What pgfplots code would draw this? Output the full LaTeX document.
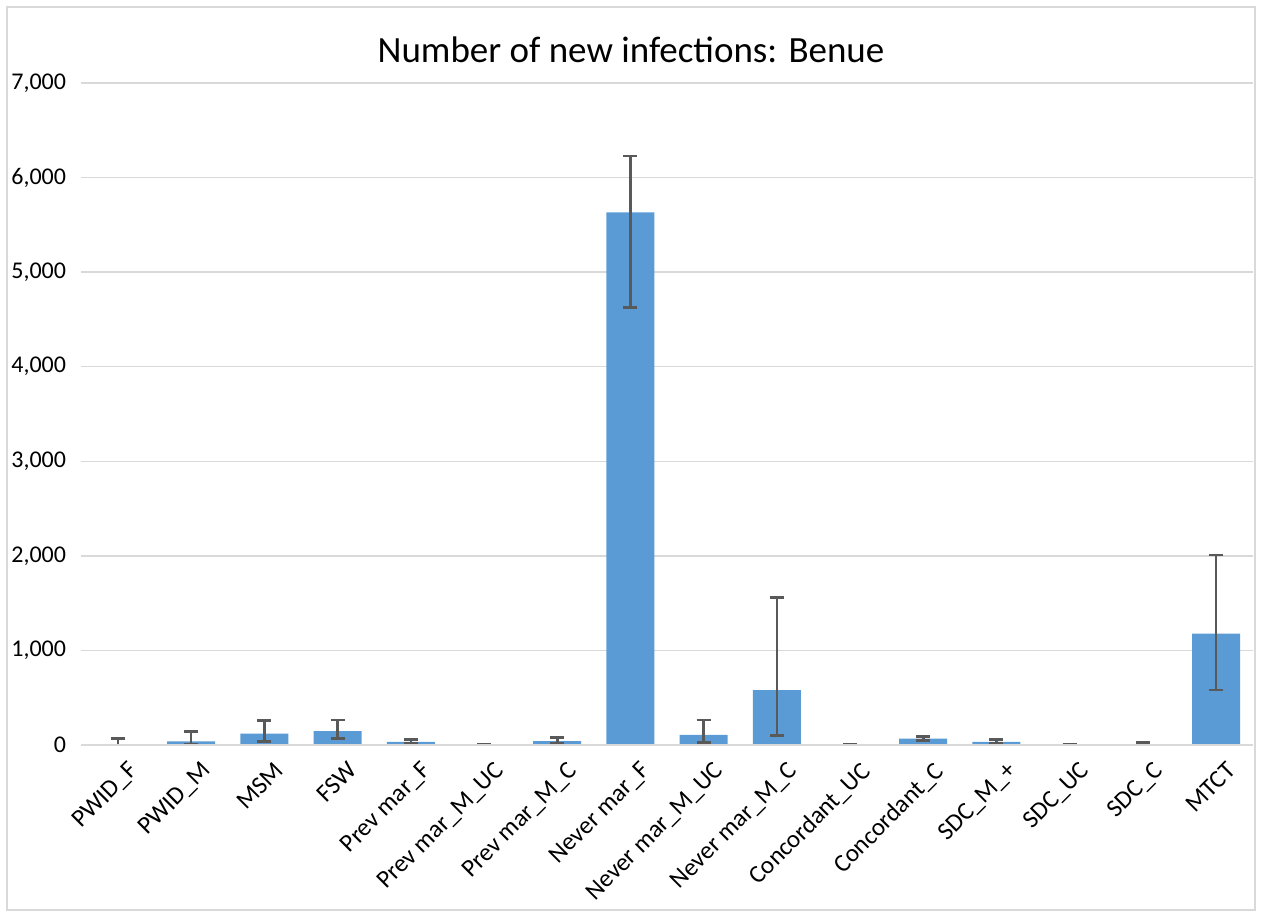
\documentclass[border=0pt]{standalone}
\usepackage{pgfplots}
\pgfplotsset{compat=1.18}
\usepackage{pgfplotstable}
\usepackage{fontspec}
\setmainfont{Carlito}
\definecolor{barblue}{HTML}{5B9BD5}
\definecolor{gridgray}{HTML}{D9D9D9}
\definecolor{errgray}{HTML}{595959}
\pgfplotstableread{
x y ep em
0 5 62 5
1 39 106 29
2 120 138 85
3 148 117 81
4 32 24 11
5 3 3 2
6 42 35 21
7 5631 598 1004
8 106 158 82
9 581 976 483
10 2 2 1
11 67 21 17
12 32 28 18
13 2 2 1
14 10 18 5
15 1177 831 596
}\datatable
\begin{document}
\begin{tikzpicture}
\useasboundingbox (-40.7pt,-85.5pt) rectangle (590.3pt,372.5pt);
\draw[gridgray, line width=0.75pt] (-37.2pt,-82.5pt) rectangle (586.8pt,369pt);
\begin{axis}[
  at={(0,0)}, anchor=south west,
  scale only axis,
  width=585.6pt, height=331pt,
  xmin=-0.5, xmax=15.5,
  ymin=0, ymax=7000,
  ytick={0,1000,...,7000},
  xtick={0,...,15},
  xticklabels={PWID\_F,PWID\_M,MSM,FSW,Prev mar\_F,Prev mar\_M\_UC,Prev mar\_M\_C,Never mar\_F,Never mar\_M\_UC,Never mar\_M\_C,Concordant\_UC,Concordant\_C,SDC\_M\_+,SDC\_UC,SDC\_C,MTCT},
  xticklabel style={rotate=45, anchor=north east, font=\fontsize{12.5}{14}\selectfont, inner sep=1pt, yshift=-7.5pt, xshift=-1pt},
  yticklabel style={anchor=east, font=\fontsize{12}{14}\selectfont, inner sep=0pt, xshift=-7.5pt},
  /pgf/number format/assume math mode=true,
  /pgf/number format/1000 sep={,},
  scaled y ticks=false,
  major tick length=0pt,
  ymajorgrids,
  grid style={gridgray, line width=0.75pt},
  axis line style={draw=none},
  axis x line*=bottom,
  axis y line*=left,
  clip=false,
]
\addplot[ybar, bar width=24pt, fill=barblue, draw=none,
  error bars/.cd, y dir=both, y explicit,
  error bar style={errgray, line width=1.3pt},
  error mark options={errgray, rotate=90, mark size=3.5pt, line width=1.3pt}]
  table[x=x, y=y, y error plus=ep, y error minus=em] {\datatable};
\draw[gridgray, line width=0.75pt] (axis cs:-0.5,0) -- (axis cs:15.5,0);
\end{axis}
\node[font=\fontsize{18.5}{22}\selectfont] at (274.8pt,347.5pt) {Number of new infections: Benue};
\end{tikzpicture}
\end{document}
